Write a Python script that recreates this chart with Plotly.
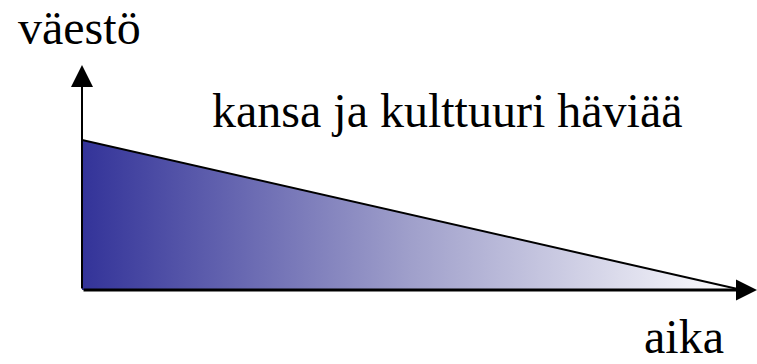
import plotly.graph_objects as go

# Data
time_points = [0, 100]          # aika (relative)
population = [100, 0]           # väestö (relative)
y_label = "väestö"
x_label = "aika"
message = "kansa ja kulttuuri häviää"

W, H = 757, 364
ML, MR, MT, MB = 82, 0, 65, 74
PW, PH = W - ML - MR, H - MT - MB
X_MAX = 100 * PW / 660.0   # axis extends beyond last time point
Y_MAX = 150

FONT = "Liberation Serif, Times New Roman, serif"


def px_x(p):
    return (p - ML) / PW


def px_y(p):
    return (H - MB - p) / PH


fig = go.Figure()
fig.add_trace(go.Scatter(
    x=time_points, y=population, mode="lines",
    line=dict(color="black", width=2),
    fill="tozeroy",
    fillgradient=dict(type="horizontal",
                      colorscale=[[0, "#333399"], [0.5, "#a0a0cb"], [1, "#ffffff"]]),
    hoverinfo="skip", showlegend=False,
))

tfont = dict(family=FONT, size=48, color="black")
annotations = [
    # y axis arrow
    dict(x=0, y=Y_MAX, ax=0, ay=0, xref="x", yref="y", axref="x", ayref="y",
         text="", showarrow=True, arrowhead=2, arrowsize=2.2, arrowwidth=2, arrowcolor="black"),
    # x axis arrow
    dict(x=X_MAX, y=0, ax=0, ay=0, xref="x", yref="y", axref="x", ayref="y",
         text="", showarrow=True, arrowhead=2, arrowsize=1.4, arrowwidth=3, arrowcolor="black"),
    dict(x=px_x(79), y=px_y(56), xref="paper", yref="paper", text=y_label, showarrow=False,
         font=tfont, xanchor="center", yanchor="bottom"),
    dict(x=px_x(447), y=px_y(139), xref="paper", yref="paper", text=message, showarrow=False,
         font=tfont, xanchor="center", yanchor="bottom"),
    dict(x=px_x(684), y=px_y(365), xref="paper", yref="paper", text=x_label, showarrow=False,
         font=tfont, xanchor="center", yanchor="bottom"),
]

fig.update_layout(
    width=W, height=H,
    margin=dict(l=ML, r=MR, t=MT, b=MB, pad=0),
    paper_bgcolor="white", plot_bgcolor="white",
    xaxis=dict(range=[0, X_MAX], visible=False, fixedrange=True),
    yaxis=dict(range=[0, Y_MAX], visible=False, fixedrange=True),
    annotations=annotations,
    showlegend=False,
)

fig.write_html("out.html", config={"displayModeBar": False},
               post_script="document.body.style.margin='0';document.body.style.overflow='hidden';")
